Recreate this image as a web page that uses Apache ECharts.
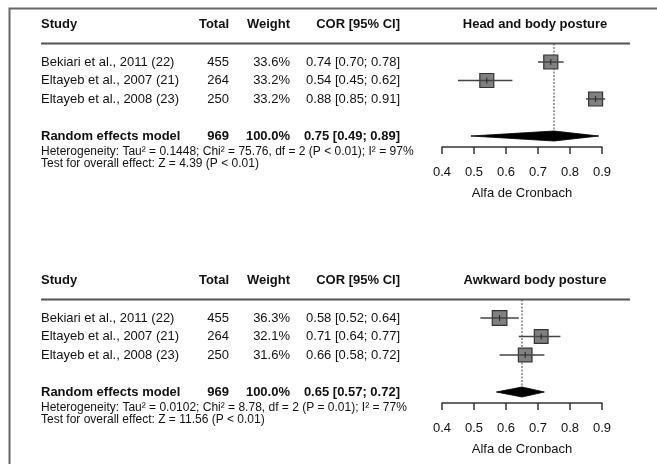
<!DOCTYPE html>
<html><head><meta charset="utf-8">
<script src="https://cdn.jsdelivr.net/npm/echarts@6/dist/echarts.min.js"></script>
<style>html,body{margin:0;padding:0;background:#fff}#c{width:657px;height:464px}</style>
</head><body><div id="c"></div>
<script>
// ---- data ----
const studies = ['Bekiari et al., 2011 (22)', 'Eltayeb et al., 2007 (21)', 'Eltayeb et al., 2008 (23)'];
const totals = [455, 264, 250];
const totalN = 969;
const headers = ['Study', 'Total', 'Weight', 'COR [95% CI]'];
const panelTitles = ['Head and body posture', 'Awkward body posture'];
const axisTitle = 'Alfa de Cronbach';
const tickValues = [0.4, 0.5, 0.6, 0.7, 0.8, 0.9];

const weightsA = [33.6, 33.2, 33.2];
const estA = [0.74, 0.54, 0.88];
const lowA = [0.70, 0.45, 0.85];
const highA = [0.78, 0.62, 0.91];
const summaryA = [0.75, 0.49, 0.89];
const hetA = 'Heterogeneity: Tau\u00b2 = 0.1448; Chi\u00b2 = 75.76, df = 2 (P < 0.01); I\u00b2 = 97%';
const testA = 'Test for overall effect: Z = 4.39 (P < 0.01)';

const weightsB = [36.3, 32.1, 31.6];
const estB = [0.58, 0.71, 0.66];
const lowB = [0.52, 0.64, 0.58];
const highB = [0.64, 0.77, 0.72];
const summaryB = [0.65, 0.57, 0.72];
const hetB = 'Heterogeneity: Tau\u00b2 = 0.0102; Chi\u00b2 = 8.78, df = 2 (P = 0.01); I\u00b2 = 77%';
const testB = 'Test for overall effect: Z = 11.56 (P < 0.01)';

const panels = [
  {w: weightsA, est: estA, lo: lowA, hi: highA, sum: summaryA, het: hetA, test: testA, title: panelTitles[0]},
  {w: weightsB, est: estB, lo: lowB, hi: highB, sum: summaryB, het: hetB, test: testB, title: panelTitles[1]}
];

// ---- layout (row units) ----
const ROW_PX = 18.5;
const gridTops = [43.5, 299.5];
const Y_MAX = 5.6;
const HEADER_ROW = -1.05, SUM_ROW = 5, HET_ROW = 5.85, TEST_ROW = 6.5;
const FONT = "'Liberation Sans', Arial, sans-serif";
const COL = {study: 41, total: 229, weight: 290, ci: 400, title: 535, ruleEnd: 630};
const TXT = '#111';

const ci = (e, l, h) => e.toFixed(2) + ' [' + l.toFixed(2) + '; ' + h.toFixed(2) + ']';

function txt(x, y, s, align, bold, size) {
  return {type: 'text', x: x, y: y, style: {text: s, fill: TXT, align: align, verticalAlign: 'middle',
    font: (bold ? 'bold ' : '') + (size || 13) + 'px ' + FONT}};
}

const grids = [], xAxes = [], yAxes = [], series = [];
panels.forEach((p, k) => {
  grids.push({left: 442, width: 160, top: gridTops[k], height: Y_MAX * ROW_PX});
  xAxes.push({type: 'value', gridIndex: k, min: 0.4, max: 0.9, interval: 0.1,
    axisLine: {show: true, onZero: false, lineStyle: {color: '#333', width: 1.5}},
    axisTick: {show: true, length: 7, lineStyle: {color: '#333', width: 1.5}, customValues: tickValues},
    axisLabel: {fontSize: 13, fontFamily: FONT, color: TXT, margin: 19, customValues: tickValues,
      formatter: v => v.toFixed(1)},
    splitLine: {show: false},
    name: axisTitle, nameLocation: 'middle', nameGap: 40,
    nameTextStyle: {fontSize: 13, fontFamily: FONT, color: TXT}});
  yAxes.push({type: 'value', gridIndex: k, min: 0, max: Y_MAX, inverse: true, show: false});

  // table text
  series.push({type: 'custom', xAxisIndex: k, yAxisIndex: k, silent: true, z: 1,
    data: [[0.4, 0]],
    renderItem: (params, api) => {
      const y = r => api.coord([0.4, r])[1];
      const ch = [];
      const hy = y(HEADER_ROW);
      ch.push(txt(COL.study, hy, headers[0], 'left', true));
      ch.push(txt(COL.total, hy, headers[1], 'right', true));
      ch.push(txt(COL.weight, hy, headers[2], 'right', true));
      ch.push(txt(COL.ci, hy, headers[3], 'right', true));
      ch.push(txt(COL.title, hy, p.title, 'center', true));
      const ry = y(0);
      ch.push({type: 'line', shape: {x1: COL.study, y1: ry, x2: COL.ruleEnd, y2: ry},
        style: {stroke: '#555', lineWidth: 2}});
      studies.forEach((s, i) => {
        const yy = y(i + 1);
        ch.push(txt(COL.study, yy, s, 'left', false));
        ch.push(txt(COL.total, yy, String(totals[i]), 'right', false));
        ch.push(txt(COL.weight, yy, p.w[i].toFixed(1) + '%', 'right', false));
        ch.push(txt(COL.ci, yy, ci(p.est[i], p.lo[i], p.hi[i]), 'right', false));
      });
      const sy = y(SUM_ROW);
      ch.push(txt(COL.study, sy, 'Random effects model', 'left', true));
      ch.push(txt(COL.total, sy, String(totalN), 'right', true));
      ch.push(txt(COL.weight, sy, '100.0%', 'right', true));
      ch.push(txt(COL.ci, sy, ci(p.sum[0], p.sum[1], p.sum[2]), 'right', true));
      ch.push(txt(COL.study, y(HET_ROW), p.het, 'left', false, 12));
      ch.push(txt(COL.study, y(TEST_ROW), p.test, 'left', false, 12));
      return {type: 'group', children: ch};
    }});

  // dotted reference line at summary estimate
  series.push({type: 'custom', xAxisIndex: k, yAxisIndex: k, silent: true, z: 2,
    data: [[p.sum[0], 0, SUM_ROW - 0.25]],
    renderItem: (params, api) => {
      const a = api.coord([api.value(0), api.value(1)]);
      const b = api.coord([api.value(0), api.value(2)]);
      return {type: 'line', shape: {x1: a[0], y1: a[1], x2: b[0], y2: b[1]},
        style: {stroke: '#444', lineWidth: 1, lineDash: [2, 1.5]}};
    }});

  // study markers
  series.push({type: 'custom', xAxisIndex: k, yAxisIndex: k, silent: true, z: 3,
    data: p.est.map((e, i) => [e, p.lo[i], p.hi[i], i + 1, p.w[i]]),
    renderItem: (params, api) => {
      const r = api.value(3);
      const c = api.coord([api.value(0), r]);
      const l = api.coord([api.value(1), r]);
      const h = api.coord([api.value(2), r]);
      const s = 14 * Math.sqrt(api.value(4) / 33.4);
      return {type: 'group', children: [
        {type: 'rect', shape: {x: c[0] - s / 2, y: c[1] - s / 2, width: s, height: s},
          style: {fill: '#808080', stroke: '#333', lineWidth: 1.2}},
        {type: 'line', shape: {x1: l[0], y1: c[1], x2: h[0], y2: c[1]},
          style: {stroke: '#444', lineWidth: 1.5}},
        {type: 'line', shape: {x1: c[0], y1: c[1] - 3, x2: c[0], y2: c[1] + 3},
          style: {stroke: '#222', lineWidth: 1}}
      ]};
    }});

  // summary diamond
  series.push({type: 'custom', xAxisIndex: k, yAxisIndex: k, silent: true, z: 4,
    data: [[p.sum[0], p.sum[1], p.sum[2], SUM_ROW]],
    renderItem: (params, api) => {
      const r = api.value(3);
      const c = api.coord([api.value(0), r]);
      const l = api.coord([api.value(1), r]);
      const h = api.coord([api.value(2), r]);
      return {type: 'polygon', shape: {points: [[l[0], c[1]], [c[0], c[1] - 5], [h[0], c[1]], [c[0], c[1] + 5]]},
        style: {fill: '#000', stroke: '#000', lineWidth: 0.8}};
    }});
});

const chart = echarts.init(document.getElementById('c'), null, {renderer: 'canvas'});
chart.setOption({
  animation: false,
  backgroundColor: '#fff',
  grid: grids, xAxis: xAxes, yAxis: yAxes, series: series,
  graphic: [{type: 'rect', left: 7, top: 6, shape: {width: 700, height: 520},
    style: {fill: 'none', stroke: '#666', lineWidth: 2}, z: 0}]
});
</script></body></html>
